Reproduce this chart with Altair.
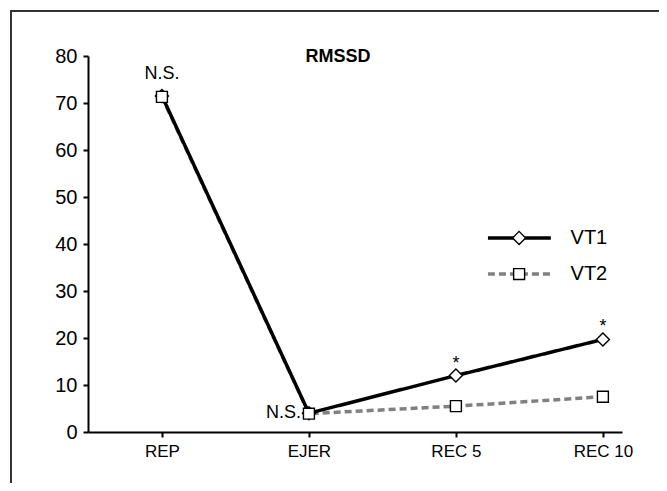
import altair as alt
import pandas as pd

categories = ["REP", "EJER", "REC 5", "REC 10"]
vt1 = [71.5, 4.0, 12.0, 19.7]
vt2 = [71.3, 3.9, 5.5, 7.5]
series_names = ["VT1", "VT2"]

rows = []
for i, c in enumerate(categories):
    rows.append({"idx": i, "cat": c, "value": vt1[i], "series": "VT1"})
    rows.append({"idx": i, "cat": c, "value": vt2[i], "series": "VT2"})
df = pd.DataFrame(rows)
df1 = df[df.series == "VT1"]
df2 = df[df.series == "VT2"]

# annotations (position in data coordinates)
ann_text = ["N.S.", "N.S.", "*", "*"]
ann_idx = [0, 1, 2, 3]
ann_val = [71.5, 4.0, 12.0, 19.7]
ann_df = pd.DataFrame({"idx": ann_idx, "value": ann_val, "text": ann_text})

# legend (drawn in data coordinates)
leg_y = [41.3, 33.6]
leg_x0, leg_x1, leg_xm, leg_xt = 2.218, 2.646, 2.43, 2.78
leg_lines = pd.DataFrame({
    "idx": [leg_x0, leg_x1, leg_x0, leg_x1],
    "value": [leg_y[0], leg_y[0], leg_y[1], leg_y[1]],
    "series": ["VT1", "VT1", "VT2", "VT2"],
})
leg_pts = pd.DataFrame({"idx": [leg_xm, leg_xm], "value": leg_y, "series": series_names})
leg_txt = pd.DataFrame({"idx": [leg_xt, leg_xt], "value": leg_y, "series": series_names})

FONT = "Liberation Sans"

xscale = alt.Scale(domain=[-0.503, 3.13], nice=False, zero=False)
yscale = alt.Scale(domain=[0, 80], nice=False)

label_expr = "datum.value == 0 ? 'REP' : datum.value == 1 ? 'EJER' : datum.value == 2 ? 'REC 5' : 'REC 10'"

x_enc = alt.X("idx:Q", scale=xscale, axis=alt.Axis(
    values=[0, 1, 2, 3], labelExpr=label_expr, title=None, grid=False,
    domainColor="black", domainWidth=2, tickColor="black", tickWidth=2, tickSize=5,
    labelFont=FONT, labelFontSize=17, labelColor="black", labelPadding=6))
y_enc = alt.Y("value:Q", scale=yscale, axis=alt.Axis(
    values=list(range(0, 81, 10)), title=None, grid=False,
    domainColor="black", domainWidth=2, tickColor="black", tickWidth=2, tickSize=5,
    labelFont=FONT, labelFontSize=20, labelColor="black", labelPadding=6))

color_scale = alt.Scale(domain=series_names, range=["black", "#808080"])
dash_scale = alt.Scale(domain=series_names, range=[[1, 0], [7, 4]])
shape_scale = alt.Scale(domain=series_names, range=["diamond", "square"])
size_scale = alt.Scale(domain=series_names, range=[170, 120])

def series_line(data, width):
    return alt.Chart(data).mark_line(strokeWidth=width).encode(
        x=x_enc, y=y_enc,
        color=alt.Color("series:N", scale=color_scale, legend=None),
        strokeDash=alt.StrokeDash("series:N", scale=dash_scale, legend=None),
        order=alt.Order("idx:Q"),
    )

line2 = series_line(df2, 3.5)
line1 = series_line(df1, 3.5)

def marker_layer(data):
    return alt.Chart(data).mark_point(filled=True, fill="white", stroke="black",
                                      strokeWidth=1.4, opacity=1).encode(
        x=alt.X("idx:Q", scale=xscale), y=alt.Y("value:Q", scale=yscale),
        shape=alt.Shape("series:N", scale=shape_scale, legend=None),
        size=alt.Size("series:N", scale=size_scale, legend=None),
    )

points = marker_layer(df)

ann_ns_top = alt.Chart(ann_df.iloc[[0]]).mark_text(
    font=FONT, fontSize=18, color="black", dy=-22, baseline="middle", align="center").encode(
    x=alt.X("idx:Q", scale=xscale), y=alt.Y("value:Q", scale=yscale), text="text:N")
ann_ns_left = alt.Chart(ann_df.iloc[[1]]).mark_text(
    font=FONT, fontSize=18, color="black", dx=-8, baseline="middle", align="right").encode(
    x=alt.X("idx:Q", scale=xscale), y=alt.Y("value:Q", scale=yscale), text="text:N")
ann_star = alt.Chart(ann_df.iloc[[2, 3]]).mark_text(
    font=FONT, fontSize=18, color="black", dy=-12, baseline="middle", align="center").encode(
    x=alt.X("idx:Q", scale=xscale), y=alt.Y("value:Q", scale=yscale), text="text:N")

leg_l = alt.Chart(leg_lines).mark_line(strokeWidth=3.5).encode(
    x=alt.X("idx:Q", scale=xscale), y=alt.Y("value:Q", scale=yscale),
    color=alt.Color("series:N", scale=color_scale, legend=None),
    strokeDash=alt.StrokeDash("series:N", scale=dash_scale, legend=None),
    detail="series:N",
)
leg_p = marker_layer(leg_pts)
leg_t = alt.Chart(leg_txt).mark_text(font=FONT, fontSize=20, color="black",
                                     align="left", baseline="middle").encode(
    x=alt.X("idx:Q", scale=xscale), y=alt.Y("value:Q", scale=yscale), text="series:N")

title = alt.Chart(pd.DataFrame({"t": ["RMSSD"]})).mark_text(
    font=FONT, fontSize=18, fontWeight="bold", color="black", baseline="middle").encode(
    x=alt.value(250), y=alt.value(1), text="t:N")

border_left = alt.Chart(pd.DataFrame({"a": [0]})).mark_rule(color="#333333", strokeWidth=2).encode(
    x=alt.value(-77), y=alt.value(-45), y2=alt.value(450))
border_top = alt.Chart(pd.DataFrame({"a": [0]})).mark_rule(color="#333333", strokeWidth=2).encode(
    x=alt.value(-78), x2=alt.value(600), y=alt.value(-45))

chart = alt.layer(
    border_left, border_top, line2, line1, points, ann_ns_top, ann_ns_left, ann_star,
    leg_l, leg_p, leg_t, title
).properties(
    width=534, height=376,
    autosize=alt.AutoSizeParams(type="none"),
    padding={"left": 80, "top": 48, "right": 37, "bottom": 51},
    background="white",
).configure_view(stroke=None)

chart.save("out.html", embed_options={"renderer": "svg", "actions": False})
